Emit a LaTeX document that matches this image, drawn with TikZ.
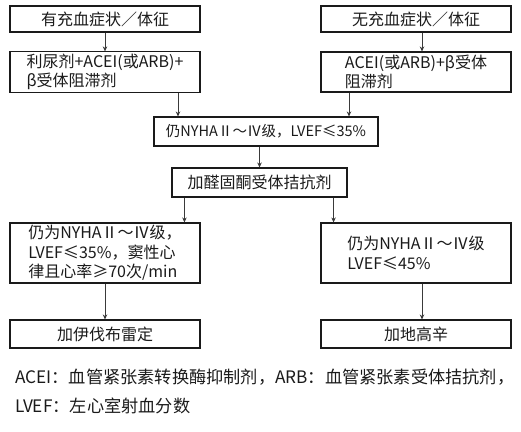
\documentclass[tikz,border=0pt]{standalone}
\usepackage{fontspec}
\setmainfont{Noto Sans CJK SC}
\usetikzlibrary{arrows.meta,positioning}
\definecolor{FlowInk}{HTML}{1A1A1A}
\definecolor{FlowArrow}{HTML}{3A3A3A}

\begin{document}
\begin{tikzpicture}[
  x=1pt,y=-1pt,>={Stealth[length=5pt,width=4.5pt]},
  every node/.style={font=\fontsize{16}{19.5}\selectfont,text=FlowInk},
  stage/.style={draw=FlowInk,line width=1.1pt,minimum width=190pt,
    minimum height=26pt,inner sep=2pt,align=left},
  tallstage/.style={stage,minimum height=40pt},
  flow/.style={->,draw=FlowArrow,line width=.75pt},
  note/.style={font=\fontsize{17.2}{29}\selectfont,align=left,
    anchor=north west,inner sep=0pt}
]
\useasboundingbox (0,0) rectangle (521,431);
% Two entry branches, by congestion status
\node[stage] (congL) at (105,19) {有充血症状／体征};
\node[tallstage] (drugL) at (105,72) {利尿剂+ACEI(或ARB)+\\β受体阻滞剂};
\node[stage] (congR) at (416,19) {无充血症状／体征};
\node[tallstage] (drugR) at (416,72) {ACEI(或ARB)+β受体\\阻滞剂};
\node[stage,minimum width=224pt,minimum height=29pt,
  font=\fontsize{14.5}{19}\selectfont] (nyha) at (266,131.5)
  {仍NYHAⅡ～Ⅳ级，LVEF≤35\%};
\node[stage,minimum width=175pt,minimum height=29pt] (mra) at (259.5,182.5)
  {加醛固酮受体拮抗剂};
\node[stage,minimum height=60pt] (rateL) at (105,253)
  {仍为NYHAⅡ～Ⅳ级，\\LVEF≤35\%，窦性心\\律且心率≥70次/min};
\node[stage,minimum height=60pt] (efR) at (416,253)
  {仍为NYHAⅡ～Ⅳ级\\LVEF≤45\%};
\node[stage,minimum height=28pt] (ivab) at (105,334) {加伊伐布雷定};
\node[stage,minimum height=28pt] (digo) at (416,334) {加地高辛};
\draw[flow] (congL) -- (drugL);
\draw[flow] ([xshift=6pt]congR.south) -- ([xshift=6pt]drugR.north);
\draw[flow] ([xshift=73pt]drugL.south) -- ([xshift=73pt]drugL.south |- nyha.north);
\draw[flow] ([xshift=-67pt]drugR.south) -- ([xshift=-67pt]drugR.south |- nyha.north);
\draw[flow] (nyha.south -| mra) -- (mra.north);
\draw[flow] ([xshift=13pt]mra.south west) -- ([xshift=13pt]mra.south west |- rateL.north);
\draw[flow] ([xshift=-14pt]mra.south east) -- ([xshift=-14pt]mra.south east |- efR.north);
\draw[flow] (rateL) -- (ivab);
\draw[flow] ([xshift=6pt]efR.south) -- ([xshift=6pt]digo.north);
\node[note] (legend) at (15,369)
  {ACEI：血管紧张素转换酶抑制剂，ARB：血管紧张素受体拮抗剂，\\LVEF：左心室射血分数};
\end{tikzpicture}
\end{document}
